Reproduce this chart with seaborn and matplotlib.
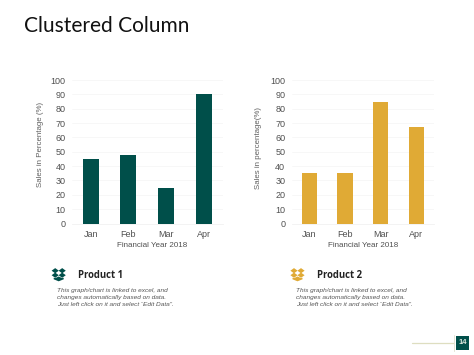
import matplotlib
matplotlib.use("Agg")
import matplotlib.pyplot as plt
import seaborn as sns
import pandas as pd
from matplotlib.patches import Polygon, Rectangle

months = ["Jan", "Feb", "Mar", "Apr"]
product1 = [45, 48, 25, 90]
product2 = [35, 35, 85, 67]
yticks = [0, 10, 20, 30, 40, 50, 60, 70, 80, 90, 100]
GREEN = "#004f4a"
GOLD = "#e0aa35"
W, H = 474, 355
BODY = "This graph/chart is linked to excel, and\nchanges automatically based on data.\nJust left click on it and select \u201cEdit Data\u201d."

sns.set_theme(style="white")
plt.rcParams['font.family'] = ['Liberation Sans', 'DejaVu Sans']
fig = plt.figure(figsize=(W / 100, H / 100), dpi=100, facecolor="white")


def box(l, t, r, b):
    return [l / W, 1 - b / H, (r - l) / W, (b - t) / H]


def panel(rect, vals, color, ylab, width, ylab_x, ylab_y, xlab_x):
    ax = fig.add_axes(box(*rect))
    df = pd.DataFrame({"m": months, "v": vals})
    sns.barplot(data=df, x="m", y="v", color=color, saturation=1, width=width, linewidth=0, ax=ax)
    ax.set_ylim(0, 100)
    ax.set_xlim(-0.5, 3.5)
    ax.set_yticks(yticks)
    ax.tick_params(axis="y", length=0, labelsize=6.5, labelcolor="#505050", pad=4.5)
    ax.tick_params(axis="x", length=0, labelsize=6.5, labelcolor="#505050", pad=5)
    ax.yaxis.grid(True, color="#f4f4f4", lw=0.5)
    ax.set_axisbelow(True)
    for s in ax.spines.values():
        s.set_visible(False)
    ax.spines["bottom"].set_visible(True)
    ax.spines["bottom"].set_color("#eeeeee")
    ax.spines["bottom"].set_linewidth(0.5)
    ax.set_xlabel("Financial Year 2018", fontsize=5.8, color="#505050", labelpad=1.5, x=xlab_x)
    ax.set_ylabel("")
    fig.text(ylab_x / W, 1 - ylab_y / H, ylab, rotation=90, fontsize=5.7, color="#606060",
             ha="center", va="center")
    return ax


panel((71.8, 80, 222.9, 223.5), product1, GREEN, "Sales in Percentage (%)", 0.423, 40, 144.7, 0.529)
panel((291.5, 80, 434, 223.5), product2, GOLD, "Sales in percentage(%)", 0.43, 259, 148, 0.5)

fig.text(24 / W, 1 - 26 / H, "Clustered Column", fontsize=15, family="Lato", color="#111111",
         ha="left", va="center")


def icon(cx, cy, color):
    for dx, dy in [(-3.5, -3.6), (3.5, -3.6), (-3.5, 0.9), (3.5, 0.9)]:
        x, y = cx + dx, cy + dy
        pts = [(x - 3.6, y), (x, y - 2.6), (x + 3.6, y), (x, y + 2.6)]
        fig.add_artist(Polygon([(a / W, 1 - b / H) for a, b in pts], closed=True, fc=color, ec="none",
                               transform=fig.transFigure))
    pts = [(cx - 5.0, cy + 3.4), (cx - 3.4, cy + 3.8), (cx, cy + 2.2), (cx + 3.4, cy + 3.8), (cx + 5.0, cy + 3.4),
           (cx + 5.0, cy + 5.0), (cx, cy + 7.0), (cx - 5.0, cy + 5.0)]
    fig.add_artist(Polygon([(a / W, 1 - b / H) for a, b in pts], closed=True, fc=color, ec="none",
                           transform=fig.transFigure))


icon(58.7, 274.3, GREEN)
icon(297.5, 274.3, GOLD)
for x, name in [(78, "Product 1"), (317, "Product 2")]:
    fig.text(x / W, 1 - 275.7 / H, name, fontsize=6.85, weight="bold", family="Open Sans",
             color="#222222", ha="left", va="center")
for x in [56.7, 295.7]:
    fig.text(x / W, 1 - 297.2 / H, BODY, fontsize=4.67, style="italic", color="#555555",
             ha="left", va="center", linespacing=1.45)

fig.add_artist(Rectangle((455.7 / W, 1 - 350 / H), 13.5 / W, 14 / H, fc=GREEN, ec="none", transform=fig.transFigure))
fig.text(462.5 / W, 1 - 343 / H, "14", fontsize=5.6, weight="bold", color="#dfe8e0", ha="center", va="center")
fig.add_artist(plt.Line2D([412 / W, 453.5 / W], [1 - 342.8 / H] * 2, color="#dedec0", lw=0.9, transform=fig.transFigure))
fig.add_artist(plt.Line2D([453.7 / W] * 2, [1 - 335 / H, 1 - 351 / H], color="#e4e4d4", lw=0.7, transform=fig.transFigure))

fig.savefig("out.png", dpi=100)
